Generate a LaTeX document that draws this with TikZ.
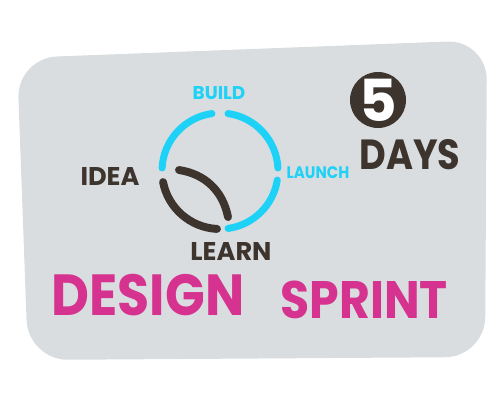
\documentclass[tikz,border=0pt]{standalone}
\usepackage{fontspec}
\setmainfont{Poppins}
\usepackage{tikz}

\definecolor{sky}{HTML}{1ED2F7}
\definecolor{ink}{HTML}{3E342E}
\definecolor{berry}{HTML}{D5338F}
\definecolor{paper}{HTML}{D9DDE0}

\newcommand{\fsz}[1]{\fontsize{#1}{#1}\selectfont\bfseries}

\tikzset{
  cyclearc/.style={line width=4pt, line cap=round},
  word/.style={inner sep=0pt, anchor=center}
}

\begin{document}
\begin{tikzpicture}[x=0.02cm, y=-0.02cm]
  \useasboundingbox (0,0) rectangle (500,400);
  % sheet
  \fill[paper, rounded corners=0.8cm]
    (17,58) -- (487,40) -- (485,357) -- (28,360) -- cycle;
  % cycle
  \coordinate (c) at (220,171);
  \begin{scope}[shift={(c)}, x=0.02cm, y=0.02cm]
    \draw[cyclearc, sky] (98:58) arc (98:177:58);
    \draw[cyclearc, sky] (82:58) arc (82:3:58);
    \draw[cyclearc, sky] (-9:58) arc (-9:-82:58);
    \draw[cyclearc, ink, line width=4.5pt] (191:58) arc (191:267:58);
    \coordinate (ls) at (-41,1);
    \coordinate (le) at (8,-46);
    \draw[cyclearc, ink, line width=4.5pt] (ls) to[bend left=35] (le);
  \end{scope}
  % labels
  \node[word, sky, font=\fsz{10.5}] (build) at (219,93) {BUILD};
  \node[word, sky, font=\fsz{9.5}, xscale=0.9] (launch) at (318,173) {LAUNCH};
  \node[word, ink, font=\fsz{14.6}] (idea) at (110,176) {IDEA};
  \node[word, ink, font=\fsz{14.6}] (learn) at (231,251) {LEARN};
  \node[circle, fill=ink, minimum size=56*0.02cm, inner sep=0pt] (five) at (378,100) {};
  \node[word, white, font=\fsz{33}] at (five) {5};
  \node[word, ink, font=\fsz{24}, xscale=0.87] (days) at (410,155) {DAYS};
  \node[word, berry, font=\fsz{33}, xscale=0.9] (design) at (148,295) {DESIGN};
  \node[word, berry, font=\fsz{30}, xscale=0.9] (sprint) at (364,300) {SPRINT};
\end{tikzpicture}
\end{document}
